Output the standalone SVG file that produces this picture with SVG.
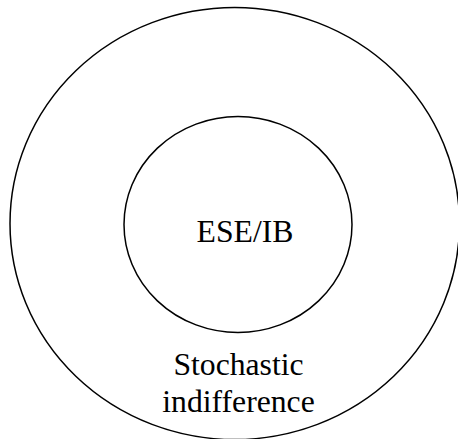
<svg xmlns="http://www.w3.org/2000/svg" width="458" height="439" viewBox="0 0 458 439">
<style>
.ring{fill:none;stroke:#000;stroke-width:1.5}
.lbl{font-family:"Liberation Serif","Times New Roman",serif;font-size:31.7px;fill:#000;text-anchor:middle}
</style>
<rect width="458" height="439" fill="#fff"/>
<g id="outer">
<ellipse class="ring" cx="234.75" cy="223.5" rx="224.75" ry="216"/>
<text class="lbl" x="238.5" y="375">Stochastic</text>
<text class="lbl" x="238.5" y="412">indifference</text>
</g>
<g id="inner">
<ellipse class="ring" cx="238" cy="224.5" rx="114" ry="108"/>
<text class="lbl" x="245" y="241.5">ESE/IB</text>
</g>
<g id="connectors"/>
</svg>
